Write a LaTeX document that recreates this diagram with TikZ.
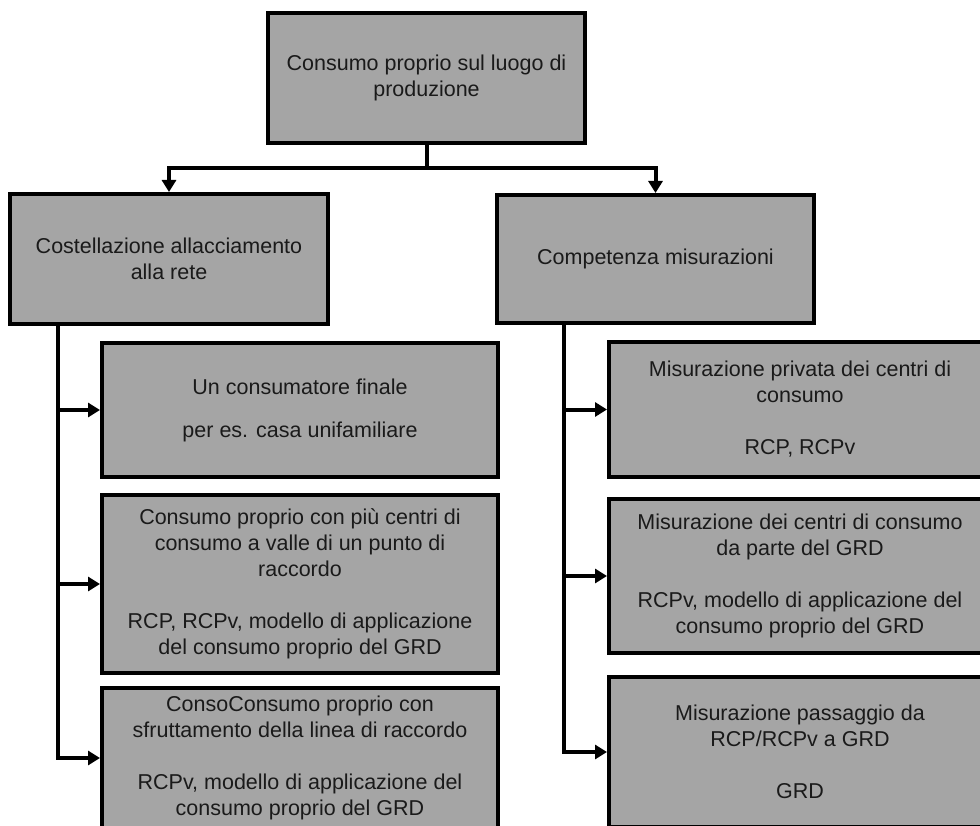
\documentclass[tikz,border=0pt]{standalone}
\usepackage{fontspec}
\setmainfont{Liberation Sans}
\usetikzlibrary{arrows.meta}
\definecolor{boxfill}{RGB}{165,165,165}
\definecolor{txt}{RGB}{26,26,26}
\tikzset{
  box/.style={draw=black, fill=boxfill, line width=4pt, inner sep=0pt, align=center,
    text=txt, font=\fontsize{21.5}{26}\selectfont},
  conn/.style={line width=4pt, draw=black},
  arr/.style={conn, -{Triangle[length=12pt,width=14pt]}}
}
\begin{document}
\begin{tikzpicture}[x=1pt,y=1pt]
\useasboundingbox (0,0) rectangle (980,-826);
\clip (0,0) rectangle (980,-826);
\fill[white] (0,0) rectangle (980,-826);
\node[box, minimum width=317pt, minimum height=130pt] (top) at (426.5,-78) {Consumo proprio sul luogo di\\produzione};
\node[box, minimum width=318pt, minimum height=130pt] (L) at (169,-259) {Costellazione allacciamento\\alla rete};
\node[box, minimum width=317pt, minimum height=128pt] (R) at (655.5,-259) {Competenza misurazioni};
\node[box, minimum width=396pt, minimum height=134pt] (L1) at (300,-410) {Un consumatore finale\\[17pt]per es. casa unifamiliare};
\node[box, minimum width=396pt, minimum height=178pt] (L2) at (300,-584) {Consumo proprio con più centri di\\consumo a valle di un punto di\\raccordo\\[26pt]RCP, RCPv, modello di applicazione\\del consumo proprio del GRD};
\node[box, minimum width=396pt, minimum height=140pt] (L3) at (300,-758) {ConsoConsumo proprio con\\sfruttamento della linea di raccordo\\[26pt]RCPv, modello di applicazione del\\consumo proprio del GRD};
\node[box, minimum width=382pt, minimum height=135pt] (R1) at (800,-409.5) {Misurazione privata dei centri di\\consumo\\[26pt]RCP, RCPv};
\node[box, minimum width=382pt, minimum height=154pt] (R2) at (800,-576) {Misurazione dei centri di consumo\\da parte del GRD\\[26pt]RCPv, modello di applicazione del\\consumo proprio del GRD};
\node[box, minimum width=382pt, minimum height=150pt] (R3) at (800,-752) {Misurazione passaggio da\\RCP/RCPv a GRD\\[26pt]GRD};
\coordinate (j) at (426.5,-168);
\coordinate (lx) at (58,0);
\coordinate (rx) at (564,0);
\draw[conn] (top.south) -- (j);
\draw[arr] (j) -| (L.north);
\draw[arr] (j) -| (R.north);
\draw[arr] (L.south -| lx) |- (L1.west);
\draw[arr] (L.south -| lx) |- (L2.west);
\draw[arr] (L.south -| lx) |- (L3.west);
\draw[arr] (R.south -| rx) |- (R1.west);
\draw[arr] (R.south -| rx) |- (R2.west);
\draw[arr] (R.south -| rx) |- (R3.west);
\end{tikzpicture}
\end{document}
